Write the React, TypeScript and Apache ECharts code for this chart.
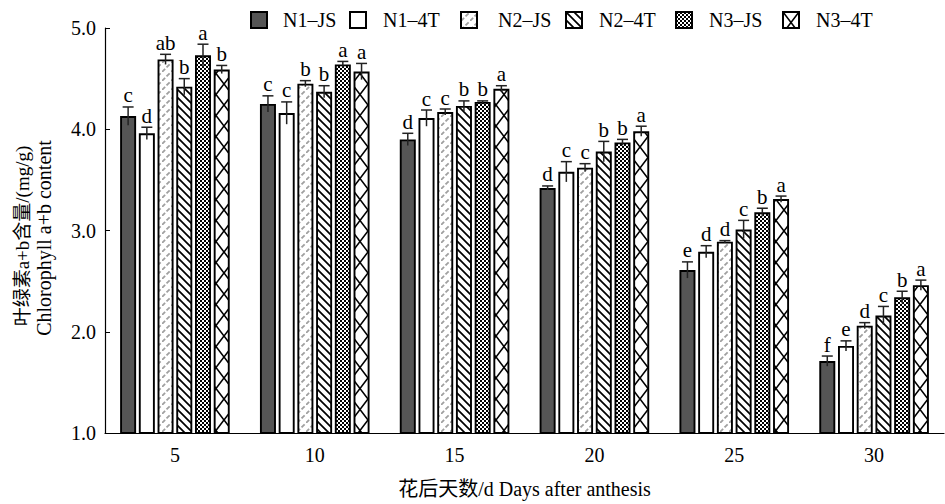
import React, { useEffect, useRef } from "react";
import * as echarts from "echarts";

const categories = ["5", "10", "15", "20", "25", "30"];
const seriesNames = ["N1–JS", "N1–4T", "N2–JS", "N2–4T", "N3–JS", "N3–4T"];

const n1js = [4.13, 4.25, 3.9, 3.42, 2.61, 1.71];
const n14t = [3.96, 4.16, 4.11, 3.58, 2.79, 1.86];
const n2js = [4.69, 4.45, 4.17, 3.62, 2.89, 2.06];
const n24t = [4.42, 4.37, 4.23, 3.78, 3.01, 2.16];
const n3js = [4.73, 4.64, 4.27, 3.87, 3.18, 2.34];
const n34t = [4.59, 4.57, 4.4, 3.98, 3.31, 2.46];

const n1jsErr = [0.09, 0.08, 0.06, 0.02, 0.08, 0.05];
const n14tErr = [0.06, 0.11, 0.08, 0.1, 0.06, 0.05];
const n2jsErr = [0.05, 0.03, 0.03, 0.04, 0.01, 0.03];
const n24tErr = [0.08, 0.06, 0.05, 0.1, 0.09, 0.09];
const n3jsErr = [0.11, 0.03, 0.01, 0.03, 0.04, 0.06];
const n34tErr = [0.04, 0.08, 0.03, 0.05, 0.03, 0.05];

const n1jsSig = ["c", "c", "d", "d", "e", "f"];
const n14tSig = ["d", "c", "c", "c", "d", "e"];
const n2jsSig = ["ab", "b", "c", "c", "d", "d"];
const n24tSig = ["b", "b", "b", "b", "c", "c"];
const n3jsSig = ["a", "a", "b", "b", "b", "b"];
const n34tSig = ["b", "a", "a", "a", "a", "a"];

const yTicks = ["1.0", "2.0", "3.0", "4.0", "5.0"];

const values = [n1js, n14t, n2js, n24t, n3js, n34t];
const errors = [n1jsErr, n14tErr, n2jsErr, n24tErr, n3jsErr, n34tErr];
const sigs = [n1jsSig, n14tSig, n2jsSig, n24tSig, n3jsSig, n34tSig];

const FONT = "'Liberation Serif', 'Times New Roman', 'Noto Sans CJK SC', serif";

function svgUrl(w: number, h: number, body: string) {
  const s = `<svg xmlns="http://www.w3.org/2000/svg" width="${w}" height="${h}">${body}</svg>`;
  return "data:image/svg+xml;charset=utf-8," + encodeURIComponent(s);
}

function pattern(w: number, h: number, body: string) {
  return {
    image: svgUrl(w, h, body),
    repeat: "repeat",
    imageWidth: w,
    imageHeight: h,
  } as any;
}

const fills: any[] = [
  "#555555",
  "#ffffff",
  pattern(
    9,
    9,
    `<rect width="9" height="9" fill="#fff"/><path d="M0,9 L9,0" stroke="#a0a0a0" stroke-width="1.8" stroke-dasharray="4.4,2"/>`
  ),
  pattern(
    8,
    8,
    `<rect width="8" height="8" fill="#fff"/><path d="M-1,-1 L9,9 M-1,7 L1,9 M7,-1 L9,1" stroke="#000" stroke-width="1.7"/>`
  ),
  pattern(
    4,
    4,
    `<rect width="4" height="4" fill="#fff"/><rect x="0" y="0" width="2" height="2" fill="#000"/><rect x="2" y="2" width="2" height="2" fill="#000"/>`
  ),
  pattern(
    16,
    21,
    `<rect width="16" height="21" fill="#fff"/><path d="M0,0 L16,21 M16,0 L0,21" stroke="#000" stroke-width="1.6"/>`
  ),
];

// legend item placement (icon left edge, text padding)
const legendLeft = [250, 349, 460, 565, 675, 782];
const legendPad = [11, 12, 16, 12, 12, 12];

const BAR_W = 16;
const GAP_RATIO = 0.17;

export default function App() {
  const ref = useRef<HTMLDivElement>(null);

  useEffect(() => {
    if (!ref.current) return;
    const chart = echarts.init(ref.current, undefined, { renderer: "svg" });

    const barSeries = seriesNames.map((name, i) => ({
      type: "bar",
      name,
      data: values[i],
      barWidth: BAR_W,
      barGap: GAP_RATIO * 100 + "%",
      itemStyle: {
        color: fills[i],
        borderColor: "#000",
        borderWidth: 1.9,
      },
      z: 2,
    }));

    const pitch = BAR_W * (1 + GAP_RATIO);

    const errSeries = seriesNames.map((name, i) => ({
      type: "custom",
      name: name + "-err",
      data: categories.map((_, k) => [k, values[i][k], errors[i][k]]),
      z: 5,
      silent: true,
      renderItem: (params: any, api: any) => {
        const k = api.value(0);
        const v = api.value(1);
        const e = api.value(2);
        const top = api.coord([k, v + e]);
        const bot = api.coord([k, v - e]);
        const x = top[0] + (i - 2.5) * pitch;
        const style = { stroke: "#222", lineWidth: 1.5 };
        return {
          type: "group",
          children: [
            {
              type: "line",
              shape: { x1: x, y1: top[1], x2: x, y2: bot[1] },
              style,
            },
            {
              type: "line",
              shape: { x1: x - 5.5, y1: top[1], x2: x + 5.5, y2: top[1] },
              style,
            },
            {
              type: "text",
              x,
              y: top[1] - 1,
              style: {
                text: sigs[i][params.dataIndex],
                fill: "#000",
                font: `21px ${FONT}`,
                align: "center",
                verticalAlign: "bottom",
              },
            },
          ],
        };
      },
    }));

    const legends = seriesNames.map((name, i) => ({
      data: [name],
      top: 10,
      left: legendLeft[i],
      icon: "rect",
      itemWidth: 16,
      itemHeight: 16,
      padding: 0,
      selectedMode: false,
      textStyle: {
        fontSize: 20,
        fontFamily: FONT,
        color: "#000",
        padding: [0, 0, 0, legendPad[i]],
      },
    }));

    chart.setOption({
      animation: false,
      textStyle: { fontFamily: FONT },
      legend: legends,
      grid: { left: 105, right: 1, top: 28, bottom: 68 },
      xAxis: {
        type: "category",
        data: categories,
        axisLine: { lineStyle: { color: "#000", width: 1.2 } },
        axisTick: { inside: true, alignWithLabel: true, length: 4, lineStyle: { color: "#000", width: 2 } },
        axisLabel: { fontSize: 20, color: "#000", margin: 12, fontFamily: FONT },
        name: "花后天数/d Days after anthesis",
        nameLocation: "middle",
        nameGap: 46,
        nameTextStyle: { fontSize: 20, color: "#000", fontFamily: FONT },
      },
      yAxis: {
        type: "value",
        min: 1,
        max: 5,
        interval: 1,
        splitLine: { show: false },
        axisLine: { show: true, lineStyle: { color: "#000", width: 1.2 } },
        axisTick: { show: true, inside: true, length: 5, lineStyle: { color: "#000" } },
        axisLabel: {
          fontSize: 20,
          color: "#000",
          margin: 9,
          fontFamily: FONT,
          formatter: (v: number) => yTicks[Math.round(v) - 1] ?? v.toFixed(1),
        },
      },
      graphic: [
        {
          type: "text",
          x: 22,
          y: 236,
          rotation: Math.PI / 2,
          style: {
            text: "叶绿素a+b含量/(mg/g)",
            fill: "#000",
            font: `19px ${FONT}`,
            align: "center",
            verticalAlign: "middle",
          },
        },
        {
          type: "text",
          x: 44,
          y: 238,
          rotation: Math.PI / 2,
          style: {
            text: "Chlorophyll a+b content",
            fill: "#000",
            font: `20px ${FONT}`,
            align: "center",
            verticalAlign: "middle",
          },
        },
      ],
      series: [...barSeries, ...errSeries],
    });

    return () => chart.dispose();
  }, []);

  return (
    <div
      ref={ref}
      style={{ position: "fixed", left: 0, top: 0, width: 945, height: 504, background: "#fff" }}
    />
  );
}
